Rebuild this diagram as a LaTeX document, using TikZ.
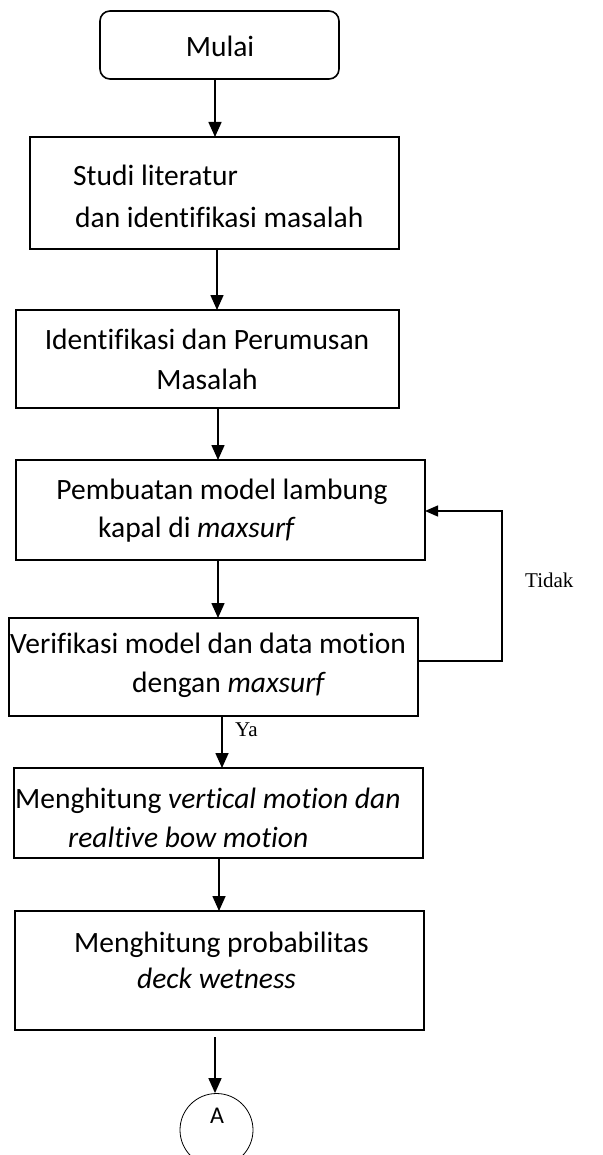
\documentclass[tikz,border=0pt]{standalone}
\usepackage{fontspec}
\setmainfont{Carlito}[Ligatures=NoCommon]
\newfontfamily\tnr{Liberation Serif}
\usetikzlibrary{arrows.meta}
\begin{document}
\begin{tikzpicture}[x=1pt,y=-1pt,
  box/.style={draw, line width=1.6pt, inner sep=0pt, outer sep=0pt},
  txt/.style={inner sep=0pt, font=\fontsize{29.5}{35}\selectfont},
  lbl/.style={inner sep=0pt, font=\tnr\fontsize{21}{25}\selectfont},
  arr/.style={line width=1.6pt, -{Triangle[length=15pt,width=13pt]}},
  looparr/.style={line width=1.3pt, -{Triangle[length=13pt,width=11pt]}},
]
\useasboundingbox (0,0) rectangle (602,1155);
\fill[white] (0,0) rectangle (602,1155);
% columns for connectors
\coordinate (c1) at (215,0);
\coordinate (c2) at (217,0);
\coordinate (c3) at (218,0);
\coordinate (c5) at (222,0);
\coordinate (c6) at (219,0);
\coordinate (l1) at (502,661);
\coordinate (l2) at (502,511);
% boxes
\node[box, rounded corners=10pt, minimum width=239pt, minimum height=68pt] (start) at (219.5,45) {};
\node[box, minimum width=369pt, minimum height=112pt] (b2) at (214.5,193) {};
\node[box, minimum width=383pt, minimum height=98pt] (b3) at (207.5,359) {};
\node[box, minimum width=409pt, minimum height=100pt] (b4) at (220.5,510) {};
\node[box, line width=1.4pt, minimum width=409pt, minimum height=98pt] (b5) at (213.5,667) {};
\node[box, line width=1.4pt, minimum width=409pt, minimum height=90pt] (b6) at (218.5,813) {};
\node[box, line width=2pt, minimum width=409pt, minimum height=119pt] (b7) at (219.5,970.5) {};
\node[draw, circle, line width=0.8pt, minimum size=73pt, inner sep=0pt] (A) at (216.5,1130) {};
% texts
\node[txt, anchor=base] at (220,57) {Mulai};
\node[txt, anchor=base west] at (73,186) {Studi literatur};
\node[txt, anchor=base west] at (75,228) {dan identifikasi masalah};
\node[txt, anchor=base] at (207,349) {Identifikasi dan Perumusan};
\node[txt, anchor=base] at (207,389) {Masalah};
\node[txt, anchor=base] at (222,499) {Pembuatan model lambung};
\node[txt, anchor=base west] at (98,537) {kapal di \textit{maxsurf}};
\node[txt, anchor=base west] at (10,653) {Verifikasi model dan data motion};
\node[txt, anchor=base west] at (132,692) {dengan \textit{maxsurf}};
\node[txt, anchor=base west] at (15,808) {Menghitung \textit{vertical motion dan}};
\node[txt, anchor=base west] at (68,847) {\textit{realtive bow motion}};
\node[txt, anchor=base west] at (74,952) {Menghitung probabilitas};
\node[txt, anchor=base west] at (137,988) {\textit{deck wetness}};
\node[inner sep=0pt, font=\fontsize{24}{28}\selectfont, anchor=base] at (217,1123) {A};
\node[lbl, anchor=base west] at (235,736) {Ya};
\node[lbl, anchor=base west] at (525,587) {Tidak};
% connectors
\draw[arr] (start.south -| c1) -- (b2.north -| c1);
\draw[arr] (b2.south -| c2) -- (b3.north -| c2);
\draw[arr] (b3.south -| c3) -- (b4.north -| c3);
\draw[arr] (b4.south -| c3) -- (b5.north -| c3);
\draw[arr] (b5.south -| c5) -- (b6.north -| c5);
\draw[arr] (b6.south -| c6) -- (b7.north -| c6);
\draw[arr] ([yshift=-7pt]b7.south -| c1) -- (A.north -| c1);
\draw[looparr] (b5.east |- l1) -- (l1) -- (l2) -- (b4.east |- l2);
\end{tikzpicture}
\end{document}
